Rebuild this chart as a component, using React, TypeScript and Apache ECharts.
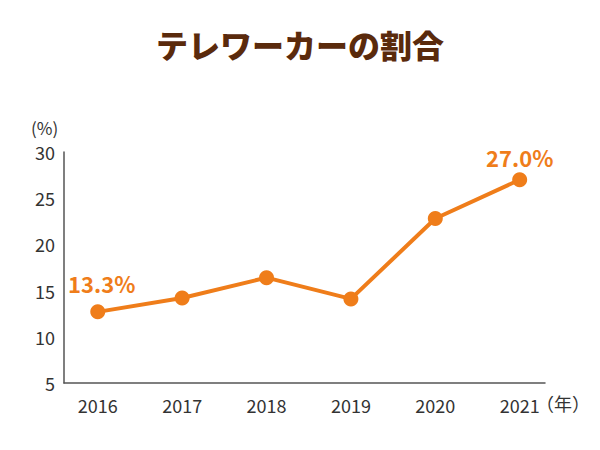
import React, { useEffect, useRef } from "react";
import * as echarts from "echarts";

const title = "テレワーカーの割合";
const years = [2016, 2017, 2018, 2019, 2020, 2021];
const shares = [12.7, 14.2, 16.4, 14.1, 22.8, 27.0];
const pointLabels = ["13.3%", "", "", "", "", "27.0%"];
const yTicks = [5, 10, 15, 20, 25, 30];
const yUnit = "(%)";
const xUnit = "（年）";

const ORANGE = "#ef7d1a";
const BROWN = "#5a2a0c";
const FONT = "'Noto Sans CJK JP', 'Noto Sans', sans-serif";

export default function App() {
  const ref = useRef<HTMLDivElement>(null);
  useEffect(() => {
    document.body.style.margin = "0";
    const chart = echarts.init(ref.current!, null, { renderer: "svg" });
    chart.setOption({
      animation: false,
      backgroundColor: "#ffffff",
      textStyle: { fontFamily: FONT },
      title: {
        text: title,
        left: "center",
        top: 23,
        textStyle: { fontSize: 32, fontWeight: 900, color: BROWN, fontFamily: FONT },
      },
      grid: { left: 64, right: 55, top: 152, bottom: 67, containLabel: false },
      xAxis: {
        type: "value",
        min: 2015.6,
        max: 2021.3,
        axisLine: { show: true, lineStyle: { color: "#555", width: 1.5 } },
        axisTick: { show: false },
        splitLine: { show: false },
        axisLabel: {
          customValues: years,
          formatter: (v: number) => String(Math.round(v)),
          margin: 13,
          fontSize: 18,
          color: "#333",
          fontFamily: FONT,
        },
      },
      yAxis: {
        type: "value",
        min: yTicks[0],
        max: yTicks[yTicks.length - 1],
        interval: 5,
        axisLine: { show: true, lineStyle: { color: "#555", width: 1.5 } },
        axisTick: { show: false },
        splitLine: { show: false },
        axisLabel: { margin: 9, fontSize: 18, color: "#333", fontFamily: FONT },
      },
      graphic: [
        {
          type: "text",
          left: 31,
          top: 119,
          style: { text: yUnit, fontSize: 17, fill: "#333", fontFamily: FONT },
        },
        {
          type: "text",
          left: 536,
          top: 394,
          style: { text: xUnit, fontSize: 18, fill: "#333", fontFamily: FONT },
        },
      ],
      series: [
        {
          type: "line",
          data: years.map((y, i) => ({
            value: [y, shares[i]],
            label: {
              show: pointLabels[i] !== "",
              formatter: () => pointLabels[i],
              position: "top",
              distance: i === 0 ? 10 : 4,
              offset: i === 0 ? [4, 0] : [0, 0],
            },
          })),
          symbol: "circle",
          symbolSize: 15,
          lineStyle: { color: ORANGE, width: 4 },
          itemStyle: { color: ORANGE },
          label: {
            fontSize: 22,
            fontWeight: "bold",
            color: ORANGE,
            fontFamily: FONT,
          },
        },
      ],
    });
    return () => chart.dispose();
  }, []);
  return (
    <div
      ref={ref}
      style={{ position: "absolute", left: 0, top: 0, width: 600, height: 450 }}
    />
  );
}
